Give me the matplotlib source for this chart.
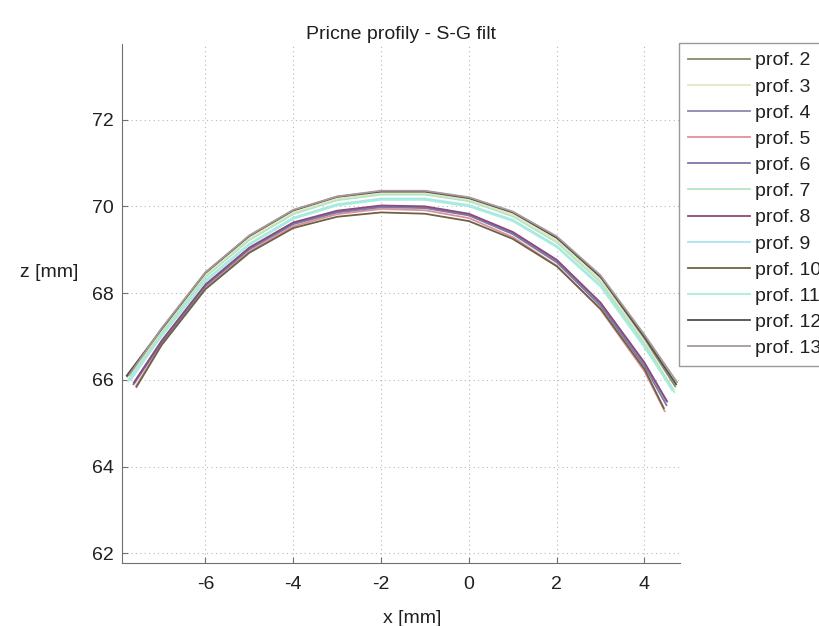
import matplotlib
matplotlib.use("Agg")
import matplotlib.pyplot as plt

# Profile names and line colours
names = ["prof. 2", "prof. 3", "prof. 4", "prof. 5", "prof. 6", "prof. 7",
         "prof. 8", "prof. 9", "prof. 10", "prof. 11", "prof. 12", "prof. 13"]
colors = ["#8a8a68", "#e6e6c4", "#8888ae", "#e0909c", "#7a7aa6", "#b4e6bc",
          "#8c4a7c", "#ace4ee", "#6e6244", "#a6eedc", "#4e4e4e", "#a89a9a"]

# Interior x knots shared by every profile [mm]
x_inner = [-7, -6, -5, -4, -3, -2, -1, 0, 1, 2, 3, 4]
# First and last x of each profile [mm]
x_start = [-7.78, -7.72, -7.62, -7.58, -7.64, -7.74, -7.63, -7.70, -7.57, -7.76, -7.79, -7.73]
x_end = [4.70, 4.62, 4.52, 4.46, 4.50, 4.66, 4.50, 4.63, 4.44, 4.68, 4.72, 4.74]

# Heights z [mm]: start, values at x_inner, end
z_p2 = [66.08, 67.15, 68.46, 69.31, 69.90, 70.22, 70.35, 70.35, 70.20, 69.86, 69.27, 68.36, 66.95, 65.85]
z_p3 = [66.05, 67.11, 68.41, 69.26, 69.86, 70.18, 70.31, 70.31, 70.16, 69.82, 69.22, 68.30, 66.88, 65.82]
z_p4 = [65.92, 66.88, 68.18, 69.03, 69.61, 69.88, 70.00, 69.98, 69.81, 69.39, 68.75, 67.76, 66.38, 65.50]
z_p5 = [65.86, 66.82, 68.11, 68.96, 69.54, 69.82, 69.94, 69.91, 69.73, 69.29, 68.63, 67.62, 66.20, 65.28]
z_p6 = [65.90, 66.86, 68.16, 69.01, 69.59, 69.86, 69.98, 69.96, 69.79, 69.36, 68.71, 67.71, 66.32, 65.42]
z_p7 = [66.02, 67.07, 68.37, 69.22, 69.82, 70.14, 70.27, 70.27, 70.12, 69.77, 69.17, 68.25, 66.83, 65.78]
z_p8 = [65.94, 66.90, 68.20, 69.05, 69.63, 69.90, 70.02, 70.00, 69.83, 69.41, 68.77, 67.78, 66.40, 65.52]
z_p9 = [66.00, 67.02, 68.30, 69.14, 69.74, 70.05, 70.18, 70.18, 70.03, 69.69, 69.09, 68.18, 66.78, 65.76]
z_p10 = [65.84, 66.80, 68.09, 68.93, 69.50, 69.76, 69.86, 69.83, 69.66, 69.25, 68.62, 67.64, 66.25, 65.35]
z_p11 = [65.98, 67.00, 68.27, 69.11, 69.71, 70.02, 70.15, 70.15, 70.00, 69.66, 69.06, 68.15, 66.75, 65.72]
z_p12 = [66.10, 67.17, 68.47, 69.32, 69.91, 70.22, 70.34, 70.34, 70.19, 69.86, 69.28, 68.38, 66.99, 65.90]
z_p13 = [66.12, 67.19, 68.48, 69.33, 69.92, 70.23, 70.36, 70.36, 70.21, 69.88, 69.31, 68.41, 67.04, 65.95]

profiles = [z_p2, z_p3, z_p4, z_p5, z_p6, z_p7, z_p8, z_p9, z_p10, z_p11, z_p12, z_p13]

x_ticks = [-6, -4, -2, 0, 2, 4]
y_ticks = [62, 64, 66, 68, 70, 72]

plt.rcParams["font.family"] = ["Liberation Sans", "DejaVu Sans"]
plt.rcParams["axes.unicode_minus"] = False

fig = plt.figure(figsize=(8.2, 6.26), dpi=100)
ax = fig.add_axes([0.1488, 0.1006, 0.680, 0.8290])

for name, col, xs, xe, z in zip(names, colors, x_start, x_end, profiles):
    ax.plot([xs] + x_inner + [xe], z, color=col, lw=1.3, label=name)

ax.set_xlim(-7.9, 4.8)
ax.set_ylim(61.78, 73.74)
ax.set_xticks(x_ticks)
ax.set_yticks(y_ticks)
ax.grid(True, linestyle=(0, (1, 3)), color="#b8b8b8", lw=0.8)
ax.tick_params(direction="in", length=4, labelsize=14, colors="#707070",
               labelcolor="#202020")
ax.tick_params(axis="x", pad=9)
ax.tick_params(axis="y", pad=6)
for s in ("top", "right"):
    ax.spines[s].set_visible(False)
for s in ("left", "bottom"):
    ax.spines[s].set_color("#707070")

ax.set_title("Pricne profily - S-G filt", fontsize=14, pad=4, color="#202020")
ax.set_xlabel("x [mm]", fontsize=14, color="#202020")
ax.xaxis.set_label_coords(0.52, -0.09)
ax.set_ylabel("z [mm]", fontsize=14, rotation=0, color="#202020", va="center")
ax.yaxis.set_label_coords(-0.13, 0.56)

leg = fig.legend(loc="upper left", bbox_to_anchor=(679 / 820, 1 - 43 / 626),
                 fontsize=14, handlelength=3.2, handletextpad=0.26,
                 labelspacing=0.44, borderpad=0.45, borderaxespad=0,
                 frameon=True, fancybox=False, labelcolor="#202020")
leg.get_frame().set_edgecolor("#808080")
leg.get_frame().set_linewidth(1.0)

fig.savefig("out.png", dpi=100)
